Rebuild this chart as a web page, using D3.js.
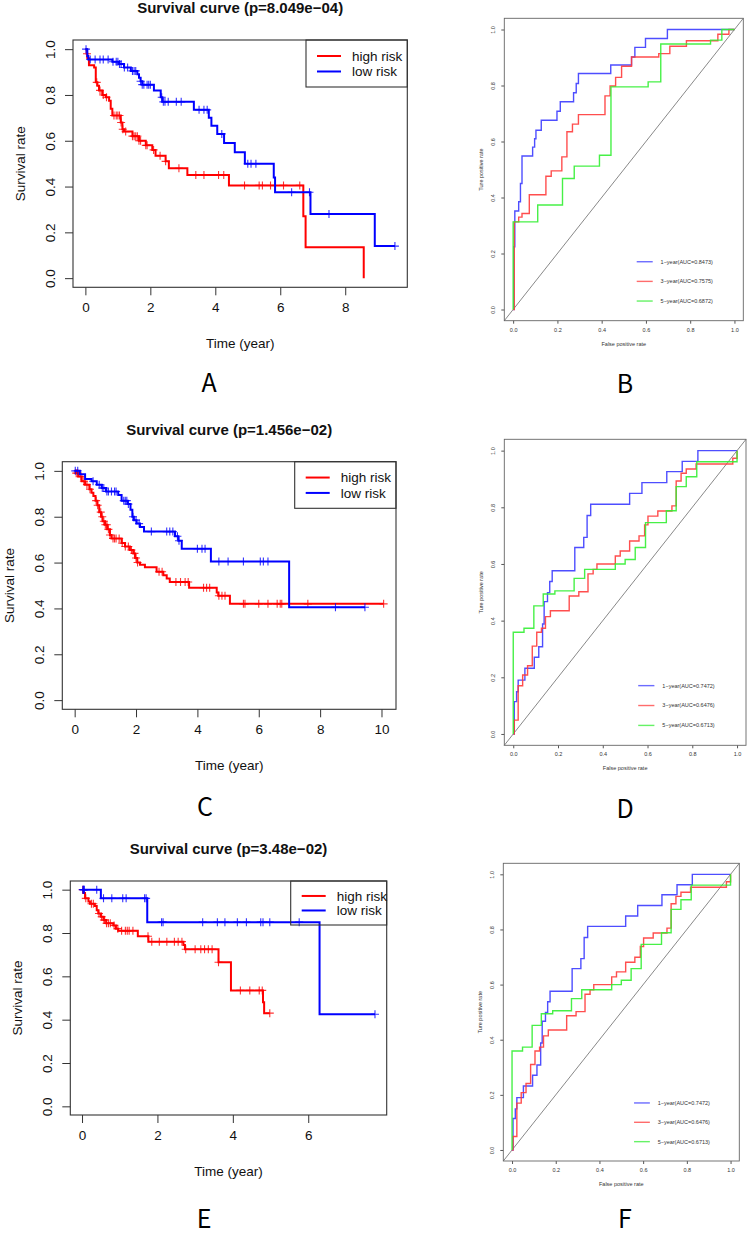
<!DOCTYPE html>
<html>
<head>
<meta charset="utf-8">
<script src="https://cdn.jsdelivr.net/npm/d3@7"></script>
<style>
  body { margin: 0; background: #fff; }
  svg text { font-family: "Liberation Sans", Arial, sans-serif; }
</style>
</head>
<body>
<svg width="749" height="1235"></svg>
<script>

// ---------- survival curves: [time (year), survival after step] ----------
var kmA_high = [[0,1],[0.04,0.98],[0.06,0.96],[0.11,0.93],[0.27,0.92],[0.32,0.855],[0.37,0.84],[0.42,0.82],[0.52,0.80],[0.63,0.79],[0.73,0.775],[0.78,0.74],[0.83,0.71],[1.09,0.68],[1.14,0.65],[1.19,0.64],[1.45,0.62],[1.65,0.60],[1.86,0.58],[2.06,0.56],[2.16,0.535],[2.47,0.51],[2.57,0.48],[3.14,0.45],[4.42,0.405],[6.71,0.27],[6.78,0.135],[8.57,0]];
var kmA_highCensor = [0.05,0.35,0.45,0.55,0.65,0.88,0.95,1.0,1.05,1.1,1.15,1.24,1.45,1.5,1.55,1.6,1.65,1.7,1.86,1.9,2.1,2.3,2.47,2.88,3.4,3.65,4.1,4.26,4.9,5.35,5.45,5.7,6.1,6.6];
var kmA_low = [[0,1],[0.06,0.97],[0.09,0.955],[0.83,0.945],[1.04,0.935],[1.19,0.92],[1.4,0.905],[1.6,0.89],[1.65,0.875],[1.7,0.86],[1.75,0.845],[2.11,0.82],[2.32,0.79],[2.37,0.77],[3.34,0.735],[3.8,0.70],[3.88,0.665],[4.06,0.63],[4.27,0.59],[4.6,0.55],[4.91,0.50],[5.8,0.44],[5.84,0.375],[6.93,0.28],[8.91,0.14],[9.53,0.14]];
var kmA_lowCensor = [0.02,0.15,0.3,0.45,0.55,0.7,0.85,0.95,1.0,1.05,1.1,1.2,1.3,1.45,1.5,1.55,1.7,1.75,1.8,1.9,1.95,2.0,2.35,2.4,2.45,2.55,2.8,2.95,3.5,3.65,3.75,4.2,5.0,5.1,5.25,6.35,6.9,7.5,9.53];

var kmC_high = [[0,1],[0.04,0.99],[0.12,0.975],[0.23,0.955],[0.34,0.94],[0.48,0.92],[0.55,0.905],[0.61,0.89],[0.68,0.87],[0.74,0.85],[0.8,0.82],[0.86,0.80],[0.91,0.78],[0.99,0.765],[1.06,0.745],[1.15,0.72],[1.2,0.705],[1.53,0.685],[1.64,0.67],[1.8,0.655],[1.91,0.64],[1.97,0.62],[2.04,0.60],[2.13,0.59],[2.29,0.58],[2.67,0.56],[2.89,0.545],[3.0,0.53],[3.1,0.515],[3.73,0.49],[4.63,0.47],[4.68,0.455],[5.06,0.42],[10.07,0.42]];
var kmC_highCensor = [0.05,0.1,0.2,0.3,0.4,0.5,0.7,0.75,0.85,0.9,0.95,1.0,1.05,1.1,1.15,1.25,1.3,1.35,1.45,1.55,1.65,1.75,1.85,1.95,2.0,2.05,2.75,2.85,3.3,3.45,3.6,3.7,4.2,4.3,4.4,4.7,4.8,4.9,5.5,5.55,6.0,6.3,6.6,6.7,6.75,7.6,10.07];
var kmC_low = [[0,1],[0.17,0.985],[0.34,0.965],[0.55,0.955],[0.72,0.94],[0.88,0.925],[1.02,0.91],[1.42,0.895],[1.53,0.87],[1.73,0.855],[1.82,0.83],[1.88,0.80],[1.93,0.785],[2.02,0.77],[2.13,0.755],[2.26,0.735],[3.27,0.715],[3.38,0.695],[3.49,0.66],[4.44,0.605],[6.99,0.405],[9.46,0.405]];
var kmC_lowCensor = [0.02,0.1,0.6,0.8,0.9,0.95,1.05,1.1,1.2,1.3,1.35,1.6,1.65,1.7,1.75,1.9,2.0,2.1,2.5,3.0,3.1,3.2,3.35,3.4,4.0,4.15,4.25,4.7,5.0,5.5,6.05,6.15,6.3,8.5,9.46];

var kmE_high = [[0,1],[0.04,0.985],[0.08,0.96],[0.17,0.945],[0.21,0.935],[0.34,0.925],[0.39,0.905],[0.43,0.89],[0.5,0.875],[0.57,0.86],[0.64,0.845],[0.83,0.835],[0.9,0.82],[0.96,0.81],[1.48,0.785],[1.76,0.76],[2.69,0.745],[2.73,0.725],[3.62,0.665],[3.95,0.535],[4.8,0.48],[4.83,0.43],[4.98,0.43]];
var kmE_highCensor = [0.02,0.1,0.25,0.3,0.45,0.52,0.58,0.6,0.65,0.7,0.75,0.85,0.95,1.05,1.15,1.2,1.25,1.35,1.75,1.85,2.05,2.25,2.45,2.55,2.65,2.75,3.0,3.15,3.25,3.35,3.45,3.62,4.2,4.45,4.7,4.78,4.98];
var kmE_low = [[0,1],[0.5,0.96],[1.73,0.85],[6.3,0.425],[7.77,0.425]];
var kmE_lowCensor = [0.02,0.04,0.05,0.06,0.39,0.57,0.79,1.08,1.17,1.66,1.7,2.11,2.15,3.2,3.59,3.79,4.12,4.36,4.74,4.8,4.98,5.76,7.77];

var kmTitles = ["Survival curve (p=8.049e\u221204)", "Survival curve (p=1.456e\u221202)", "Survival curve (p=3.48e\u221202)"];
var kmGroups = ["high risk", "low risk"];
var kmYTicks = [0, 0.2, 0.4, 0.6, 0.8, 1.0];

// ---------- ROC curves: [false positive rate, true positive rate] ----------
var rocB_1yr = [[0,0],[0.003,0.224],[0.0075,0.352],[0.025,0.385],[0.033,0.45],[0.04,0.548],[0.088,0.58],[0.097,0.61],[0.103,0.64],[0.127,0.676],[0.198,0.708],[0.213,0.742],[0.273,0.774],[0.285,0.807],[0.295,0.843],[0.441,0.873],[0.535,0.902],[0.55,0.936],[0.598,0.968],[0.697,1.0],[1,1]];
var rocB_3yr = [[0,0],[0.005,0.313],[0.025,0.33],[0.04,0.343],[0.073,0.41],[0.148,0.476],[0.172,0.495],[0.22,0.545],[0.243,0.635],[0.268,0.662],[0.295,0.696],[0.415,0.763],[0.438,0.798],[0.463,0.829],[0.49,0.869],[0.535,0.902],[0.658,0.914],[0.708,0.94],[0.783,0.96],[0.925,0.983],[0.975,1.0],[1,1]];
var rocB_5yr = [[0,0],[0,0.313],[0.111,0.373],[0.223,0.468],[0.276,0.512],[0.39,0.551],[0.442,0.795],[0.61,0.813],[0.667,0.948],[0.892,0.962],[0.943,1.0],[1,1]];
var rocB_labels = ["1\u2212year(AUC=0.8473)", "3\u2212year(AUC=0.7575)", "5\u2212year(AUC=0.6872)"];

// panels D and F show the same ROC curves
var rocD_1yr = [[0,0],[0.0045,0.114],[0.015,0.149],[0.022,0.19],[0.052,0.232],[0.094,0.271],[0.114,0.308],[0.131,0.388],[0.138,0.467],[0.153,0.499],[0.163,0.538],[0.174,0.576],[0.275,0.658],[0.315,0.694],[0.33,0.771],[0.346,0.811],[0.52,0.849],[0.575,0.887],[0.686,0.926],[0.755,0.962],[0.825,1.0],[1,1]];
var rocD_3yr = [[0,0],[0.0045,0.049],[0.022,0.17],[0.042,0.208],[0.064,0.241],[0.085,0.31],[0.105,0.359],[0.126,0.373],[0.144,0.414],[0.166,0.435],[0.25,0.487],[0.293,0.502],[0.334,0.565],[0.357,0.581],[0.374,0.6],[0.456,0.628],[0.478,0.646],[0.52,0.681],[0.562,0.699],[0.587,0.738],[0.602,0.769],[0.646,0.787],[0.709,0.805],[0.728,0.893],[0.75,0.92],[0.773,0.935],[0.817,0.953],[0.981,0.973],[1.0,1.0]];
var rocD_5yr = [[0,0],[0,0.359],[0.048,0.373],[0.092,0.452],[0.134,0.494],[0.186,0.505],[0.272,0.549],[0.319,0.581],[0.456,0.6],[0.5,0.616],[0.545,0.658],[0.591,0.746],[0.684,0.788],[0.728,0.873],[0.773,0.908],[0.82,0.961],[1.0,1.0]];
var rocD_labels = ["1\u2212year(AUC=0.7472)", "3\u2212year(AUC=0.6476)", "5\u2212year(AUC=0.6713)"];

var rocTicks = [0, 0.2, 0.4, 0.6, 0.8, 1.0];
var rocColors = ["#3b3bff", "#ff3b3b", "#33ee33"];

var svg = d3.select("svg");

// step function lookup for censor marks
function survAt(steps, t) {
  var s = steps[0][1];
  steps.forEach(function(p) { if (p[0] <= t) s = p[1]; });
  return s;
}

function drawKM(p) {
  var g = svg.append("g");
  var tmax = d3.max([p.high, p.low], function(s) { return d3.max(s, function(d) { return d[0]; }); });
  var x = d3.scaleLinear().domain([-0.04 * tmax, 1.04 * tmax]).range([p.left, p.right]);
  var y = d3.scaleLinear().domain([-0.04, 1.04]).range([p.bottom, p.top]);
  var fs = 13.5;

  var xAxis = g.append("g")
      .attr("transform", "translate(0," + p.bottom + ")")
      .call(d3.axisBottom(x).tickValues(d3.range(0, tmax, 2)).tickFormat(d3.format("d")).tickSize(8).tickPadding(7));
  xAxis.select(".domain").remove();
  xAxis.selectAll("line").attr("stroke", "#333");
  xAxis.selectAll("text").attr("font-size", fs).attr("fill", "#111").attr("font-family", "Liberation Sans");

  var yAxis = g.append("g")
      .attr("transform", "translate(" + p.left + ",0)")
      .call(d3.axisLeft(y).tickValues(kmYTicks).tickFormat(d3.format(".1f")).tickSize(8));
  yAxis.select(".domain").remove();
  yAxis.selectAll("line").attr("stroke", "#333");
  yAxis.selectAll("text")
      .attr("font-size", fs).attr("fill", "#111").attr("font-family", "Liberation Sans")
      .attr("transform", "rotate(-90)")
      .attr("x", 0).attr("y", -18).attr("dy", 0)
      .attr("text-anchor", "middle");

  g.append("rect")
      .attr("x", p.left).attr("y", p.top)
      .attr("width", p.right - p.left).attr("height", p.bottom - p.top)
      .attr("fill", "none").attr("stroke", "#333").attr("stroke-width", 1.1);

  var line = d3.line()
      .curve(d3.curveStepAfter)
      .x(function(d) { return x(d[0]); })
      .y(function(d) { return y(d[1]); });

  var series = [
    {steps: p.high, cens: p.highCens, color: "#ff0000"},
    {steps: p.low, cens: p.lowCens, color: "#0000ff"}
  ];
  series.forEach(function(s) {
    g.append("path").datum(s.steps)
        .attr("d", line).attr("fill", "none")
        .attr("stroke", s.color).attr("stroke-width", 2);
    g.selectAll(null).data(s.cens).enter().append("path")
        .attr("d", function(t) {
          var cx = x(t), cy = y(survAt(s.steps, t));
          return "M" + (cx - 4) + "," + cy + "H" + (cx + 4) + "M" + cx + "," + (cy - 4) + "V" + (cy + 4);
        })
        .attr("stroke", s.color).attr("stroke-width", 1.1).attr("opacity", 0.8);
  });

  // legend
  var lg = g.append("g");
  lg.append("rect")
      .attr("x", p.legLeft).attr("y", p.top)
      .attr("width", p.right - p.legLeft).attr("height", p.legH)
      .attr("fill", "none").attr("stroke", "#333").attr("stroke-width", 1.1);
  kmGroups.forEach(function(name, i) {
    var ly = p.top + p.legH * (i === 0 ? 0.34 : 0.67);
    lg.append("line")
        .attr("x1", p.legLeft + 11).attr("x2", p.legLeft + 35)
        .attr("y1", ly).attr("y2", ly)
        .attr("stroke", i === 0 ? "#ff0000" : "#0000ff").attr("stroke-width", 2);
    lg.append("text")
        .attr("x", p.legLeft + 46).attr("y", ly).attr("dy", "0.35em")
        .attr("font-size", fs).attr("fill", "#111").text(name);
  });

  var cx = (p.left + p.right) / 2;
  g.append("text")
      .attr("x", cx).attr("y", p.top - 27)
      .attr("text-anchor", "middle").attr("font-weight", "bold")
      .attr("font-size", 15).attr("fill", "#111").text(p.title);
  g.append("text")
      .attr("x", cx).attr("y", p.bottom + 56).attr("dy", "0.35em")
      .attr("text-anchor", "middle").attr("font-size", fs).attr("fill", "#111").text("Time (year)");
  g.append("text")
      .attr("transform", "translate(" + (p.left - 53) + "," + ((p.top + p.bottom) / 2) + ")rotate(-90)")
      .attr("dy", "0.35em")
      .attr("text-anchor", "middle").attr("font-size", fs).attr("fill", "#111").text("Survival rate");
}

function drawROC(p) {
  var g = svg.append("g");
  var x = d3.scaleLinear().domain([-0.04, 1.04]).range([p.left, p.right]);
  var y = d3.scaleLinear().domain([-0.04, 1.04]).range([p.bottom, p.top]);
  var fs = 5.5;
  var w = p.right - p.left, h = p.bottom - p.top;

  var xAxis = g.append("g")
      .attr("transform", "translate(0," + p.bottom + ")")
      .call(d3.axisBottom(x).tickValues(rocTicks).tickFormat(d3.format(".1f")).tickSize(3).tickPadding(4));
  xAxis.select(".domain").remove();
  xAxis.selectAll("line").attr("stroke", "#555");
  xAxis.selectAll("text").attr("font-size", fs).attr("fill", "#333").attr("font-family", "Liberation Sans");

  var yAxis = g.append("g")
      .attr("transform", "translate(" + p.left + ",0)")
      .call(d3.axisLeft(y).tickValues(rocTicks).tickFormat(d3.format(".1f")).tickSize(3));
  yAxis.select(".domain").remove();
  yAxis.selectAll("line").attr("stroke", "#555");
  yAxis.selectAll("text")
      .attr("font-size", fs).attr("fill", "#333").attr("font-family", "Liberation Sans")
      .attr("transform", "rotate(-90)")
      .attr("x", 0).attr("y", -9).attr("dy", 0)
      .attr("text-anchor", "middle");

  g.append("line")
      .attr("x1", x(-0.04)).attr("y1", y(-0.04))
      .attr("x2", x(1.04)).attr("y2", y(1.04))
      .attr("stroke", "#555").attr("stroke-width", 0.7);

  var line = d3.line()
      .curve(d3.curveStepAfter)
      .x(function(d) { return x(d[0]); })
      .y(function(d) { return y(d[1]); });

  p.curves.forEach(function(c, i) {
    g.append("path").datum(c)
        .attr("d", line).attr("fill", "none")
        .attr("stroke", rocColors[i]).attr("stroke-width", 1.4).attr("opacity", 0.9);
  });

  g.append("rect")
      .attr("x", p.left).attr("y", p.top).attr("width", w).attr("height", h)
      .attr("fill", "none").attr("stroke", "#666").attr("stroke-width", 0.9);

  p.labels.forEach(function(lab, i) {
    var ly = p.bottom - h * 0.065 * (3 - i);
    g.append("line")
        .attr("x1", p.left + w * 0.554).attr("x2", p.left + w * 0.621)
        .attr("y1", ly).attr("y2", ly)
        .attr("stroke", rocColors[i]).attr("stroke-width", 1.4).attr("opacity", 0.75);
    g.append("text")
        .attr("x", p.left + w * 0.654).attr("y", ly).attr("dy", "0.35em")
        .attr("font-size", fs).attr("fill", "#333").text(lab);
  });

  g.append("text")
      .attr("x", p.left + w / 2).attr("y", p.bottom + 23).attr("dy", "0.35em")
      .attr("text-anchor", "middle").attr("font-size", fs).attr("fill", "#333").text("False positive rate");
  g.append("text")
      .attr("transform", "translate(" + (p.left - 23) + "," + (p.top + h / 2) + ")rotate(-90)")
      .attr("dy", "0.35em")
      .attr("text-anchor", "middle").attr("font-size", fs).attr("fill", "#333").text("Ture positive rate");
}

drawKM({title: kmTitles[0], high: kmA_high, highCens: kmA_highCensor, low: kmA_low, lowCens: kmA_lowCensor,
        left: 73, right: 407.3, top: 40, bottom: 287.3, legLeft: 306, legH: 47});
drawKM({title: kmTitles[1], high: kmC_high, highCens: kmC_highCensor, low: kmC_low, lowCens: kmC_lowCensor,
        left: 62.3, right: 396, top: 461.7, bottom: 709.3, legLeft: 294.7, legH: 46.6});
drawKM({title: kmTitles[2], high: kmE_high, highCens: kmE_highCensor, low: kmE_low, lowCens: kmE_lowCensor,
        left: 70.3, right: 386.7, top: 881, bottom: 1115, legLeft: 290.7, legH: 44});

drawROC({curves: [rocB_1yr, rocB_3yr, rocB_5yr], labels: rocB_labels, left: 504.3, right: 743.3, top: 18.3, bottom: 320.7});
drawROC({curves: [rocD_1yr, rocD_3yr, rocD_5yr], labels: rocD_labels, left: 504.3, right: 746, top: 439.3, bottom: 745.3});
drawROC({curves: [rocD_1yr, rocD_3yr, rocD_5yr], labels: rocD_labels, left: 503.3, right: 739.3, top: 863.3, bottom: 1161});

// panel letters
var letters = [["A", 209, 392], ["B", 625, 393], ["C", 205, 816], ["D", 625, 818], ["E", 204, 1228], ["F", 625, 1228]];
svg.selectAll(".letter").data(letters).enter().append("text")
    .attr("class", "letter")
    .attr("x", function(d) { return d[1]; })
    .attr("y", function(d) { return d[2]; })
    .attr("text-anchor", "middle")
    .attr("font-size", 25)
    .style("font-family", "'Noto Sans CJK SC', 'Noto Sans', sans-serif")
    .attr("fill", "#000")
    .text(function(d) { return d[0]; });

</script>
</body>
</html>
